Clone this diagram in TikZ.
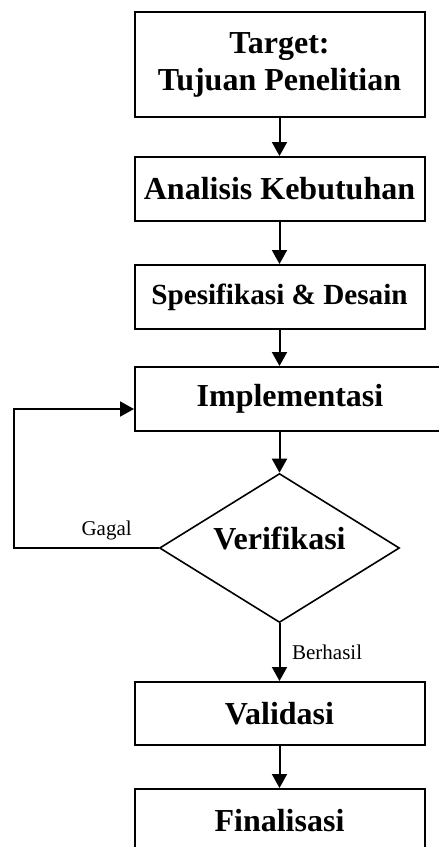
\documentclass[tikz,border=0pt]{standalone}
\usepackage{fontspec}
\setmainfont{Liberation Serif}
\usetikzlibrary{shapes.geometric}
\usetikzlibrary{arrows.meta}

\begin{document}
\begin{tikzpicture}[x=0.5pt, y=-0.5pt,
        box/.style={draw, line width=1pt, minimum width=145pt, minimum height=32pt, align=center, font=\fontsize{16}{18.5}\selectfont\bfseries},
        arr/.style={-{Triangle[length=7pt,width=7.5pt]}, line width=1pt},
        note/.style={font=\fontsize{10.5}{12}\selectfont}]
        \useasboundingbox (0,0) rectangle (439,847);
        \clip (0,0) rectangle (439,847);

        \node[box, minimum height=52.5pt] (target) at (279.5,64.5) {Target:\\Tujuan Penelitian};
        \node[box] (analisis) at (279.5,189) {Analisis Kebutuhan};
        \node[box, font=\fontsize{14.6}{17}\selectfont\bfseries] (spesifikasi) at (279.5,297) {Spesifikasi \& Desain};
        \node[box, minimum width=155pt] (impl) at (290,399) {Implementasi};
        \node[diamond, draw, line width=0.8pt, inner sep=0pt, aspect=2, minimum width=120pt, minimum height=74.5pt, text depth=10pt, font=\fontsize{16}{18.5}\selectfont\bfseries] (verif) at (279.5,548) {Verifikasi};
        \node[box, minimum height=31.5pt] (validasi) at (279.5,713.5) {Validasi};
        \node[box] (final) at (279.5,821) {Finalisasi};
        \coordinate (back) at (14,548);

        \draw[arr] (target) -- (analisis);
        \draw[arr] (analisis) -- (spesifikasi);
        \draw[arr] (spesifikasi.south) -- (spesifikasi.south |- impl.north);
        \draw[arr] (impl.south -| verif) -- (verif);
        \draw[arr] (verif.west) -- node[note, above, pos=0.36] {Gagal} (back) |- ([yshift=-5pt]impl.west);
        \draw[arr] (verif.south) -- node[note, right, xshift=2.5pt] {Berhasil} (validasi);
        \draw[arr] (validasi) -- (final);
    \end{tikzpicture}
\end{document}
